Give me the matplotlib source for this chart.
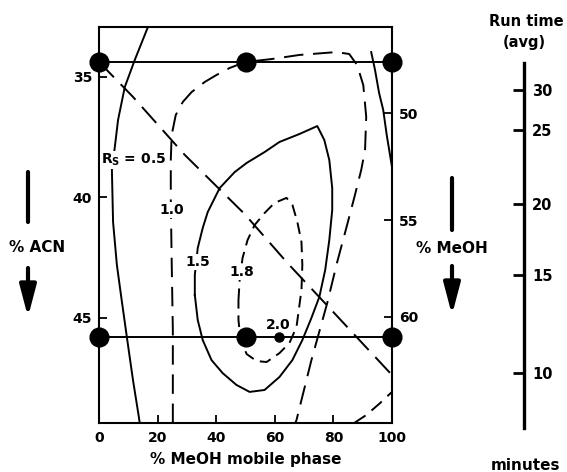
import matplotlib.pyplot as plt

plt.rcParams['font.family'] = ['DejaVu Sans']
plt.rcParams['font.weight'] = 'bold'
plt.rcParams['mathtext.fontset'] = 'custom'
plt.rcParams['mathtext.rm'] = 'DejaVu Sans:bold'
plt.rcParams['mathtext.it'] = 'DejaVu Sans:bold'
plt.rcParams['mathtext.bf'] = 'DejaVu Sans:bold'

W, H = 567, 472

# experiment points (% MeOH in mobile phase, % ACN)
grid_x = [0, 50, 100]
grid_acn = [34.38, 45.79]
opt_x = [61.6]
opt_y = [45.79]

# Rs contours (x = % MeOH, y = % ACN)
rs05_x = [16.7, 12.2, 8.8, 6.5, 5.4, 4.4, 4.8, 6.1, 7.5, 9.5, 11.6, 13.6, 13.9]
rs05_y = [32.93, 34.30, 35.42, 36.79, 37.91, 38.86, 41.02, 42.80, 44.05, 45.79, 47.58, 49.11, 49.36]
rs05r_x = [92.9, 94.2, 95.6, 97.0, 98.2, 100.0]
rs05r_y = [33.97, 34.71, 35.67, 36.37, 37.41, 38.74]

rs10_x = [25.2, 25.2, 24.8, 24.5, 24.5, 24.8, 26.2, 28.6, 31.6, 36.1, 40.1, 44.6, 50.0,
          58.9, 68.4, 81.0, 85.4, 88.1, 90.2, 91.2, 90.8, 89.5, 87.1, 84.4, 81.3, 77.9,
          72.5, 67.4, 67.0]
rs10_y = [49.36, 45.50, 42.60, 40.11, 38.45, 37.41, 36.58, 36.04, 35.63, 35.21, 34.92, 34.63, 34.38,
          34.26, 34.09, 33.97, 34.05, 34.51, 35.34, 36.66, 38.03, 38.86, 40.02, 41.27, 42.68, 44.38,
          46.75, 49.24, 49.36]

rs15_x = [32.7, 32.7, 33.7, 35.4, 37.1, 41.2, 46.3, 50.4, 56.5, 61.6, 68.4, 74.5, 76.9, 78.6,
          79.6, 79.6, 78.6, 77.2, 75.2, 72.5, 69.4, 66.0, 61.6, 56.5, 51.4, 46.9, 42.2, 38.4,
          35.4, 33.7, 32.7]
rs15_y = [44.05, 43.22, 42.10, 41.27, 40.61, 39.61, 38.95, 38.57, 38.12, 37.70, 37.37, 37.04, 37.62, 38.45,
          39.61, 40.52, 41.77, 43.01, 44.13, 45.00, 45.92, 46.75, 47.45, 47.99, 48.07, 47.78, 47.29, 46.75,
          45.92, 45.09, 44.05]

rs18_x = [47.6, 48.0, 49.0, 50.7, 53.1, 56.5, 59.9, 64.0, 66.0, 67.7, 69.1, 69.4, 69.1, 67.4,
          65.0, 61.6, 57.2, 53.8, 50.4, 48.3, 47.6, 47.6]
rs18_y = [44.26, 43.43, 42.51, 41.77, 41.15, 40.65, 40.23, 40.02, 40.31, 41.02, 41.85, 42.80, 43.84, 45.38,
          46.04, 46.46, 46.83, 46.79, 46.50, 45.92, 45.09, 44.26]

# run time contours (dashed)
diag_x = [0.0, 11.6, 29.3, 49.7, 64.3, 80.3, 100.0]
diag_y = [34.38, 35.83, 38.24, 40.69, 42.72, 44.80, 47.37]
corner_x = [87.1, 91.2, 95.6, 100.0]
corner_y = [49.36, 49.03, 48.57, 48.07]

# axis ticks
x_ticks = [0, 20, 40, 60, 80, 100]
acn_ticks = [35, 40, 45]
meoh_pos = [36.50, 40.94, 44.96]
meoh_labels = ['50', '55', '60']
runtime_labels = ['30', '25', '20', '15', '10']
runtime_pos = [90, 130, 204, 275, 373]

fig = plt.figure(figsize=(W / 100, H / 100), dpi=100)
ax = fig.add_axes([99 / W, 49 / H, 293 / W, 396 / H])
ax.set_xlim(0, 100)
ax.set_ylim(49.36, 32.93)

lw = 1.4
for acn in grid_acn:
    ax.plot(grid_x, [acn, acn, acn], color='k', lw=lw, zorder=3)
ax.plot(rs05_x, rs05_y, color='k', lw=lw)
ax.plot(rs05r_x, rs05r_y, color='k', lw=lw)
ax.plot(rs15_x, rs15_y, color='k', lw=lw)
ax.plot(rs10_x, rs10_y, color='k', lw=lw, ls=(0, (10, 5)))
ax.plot(rs18_x, rs18_y, color='k', lw=lw, ls=(0, (6, 3.5)))
ax.plot(diag_x, diag_y, color='k', lw=lw, ls=(0, (11, 5)))
ax.plot(corner_x, corner_y, color='k', lw=lw, ls=(0, (7, 4)))

for acn in grid_acn:
    ax.plot(grid_x, [acn, acn, acn], 'o', color='k', ms=13.5, clip_on=False, zorder=6)
ax.plot(opt_x, opt_y, 'o', color='k', ms=6.5, zorder=6)

lab = dict(ha='center', va='center', fontsize=10, fontweight='bold', zorder=4,
           bbox=dict(facecolor='white', edgecolor='none', pad=0.5))
ax.text(11.8, 38.45, r'$R_S$ = 0.5', **lab)
ax.text(24.8, 40.52, '1.0', **lab)
ax.text(33.7, 42.68, '1.5', **lab)
ax.text(48.6, 43.10, '1.8', **lab)
ax.text(61.2, 45.29, '2.0', **lab)

ax.set_xticks(x_ticks)
ax.set_yticks(acn_ticks)
ax.tick_params(direction='in', length=6, width=1.3, labelsize=10, pad=5,
               top=False, right=False)
ax.tick_params(axis='x', pad=6)
for s in ax.spines.values():
    s.set_linewidth(1.5)
ax.set_xlabel('% MeOH mobile phase', fontsize=11, fontweight='bold', labelpad=5)

ax2 = ax.twinx()
ax2.set_ylim(ax.get_ylim())
ax2.set_yticks(meoh_pos)
ax2.set_yticklabels(meoh_labels)
ax2.tick_params(direction='in', length=6, width=1.3, labelsize=10, pad=5)
for s in ax2.spines.values():
    s.set_visible(False)

# run time scale
rt = fig.add_axes([523 / W, (H - 428) / H, 1 / W, 365 / H])
rt.set_ylim(428, 63)
rt.set_xticks([])
rt.set_yticks(runtime_pos)
rt.set_yticklabels(runtime_labels)
for name, s in rt.spines.items():
    s.set_visible(name == 'right')
rt.spines['right'].set_linewidth(2.4)
rt.tick_params(axis='y', left=False, right=True, labelleft=False, labelright=True,
               direction='in', length=8, width=2, labelsize=10.5, pad=6)
rt.patch.set_visible(False)


def ftext(x, y, s, size=11):
    fig.text(x / W, 1 - y / H, s, ha='center', va='center', fontsize=size,
             fontweight='bold')


ftext(526, 22, 'Run time', 10.5)
ftext(524, 43, '(avg)', 10.5)
ftext(525, 465, 'minutes', 11)
ftext(37, 247, '% ACN')
ftext(452, 248, '% MeOH')

# direction arrows
for x, y0, y1, a0, a1 in [(28, 172, 222, 268, 317), (452, 178, 230, 266, 315)]:
    ax.annotate('', xy=(x, H - y1), xytext=(x, H - y0), xycoords='figure pixels',
                arrowprops=dict(arrowstyle='-', lw=3, color='k', shrinkA=0, shrinkB=0))
    ax.annotate('', xy=(x, H - a1), xytext=(x, H - a0), xycoords='figure pixels',
                arrowprops=dict(arrowstyle='-|>,head_length=0.95,head_width=0.25',
                                mutation_scale=20, lw=3, color='k', shrinkA=0, shrinkB=0))

fig.savefig('out.png', dpi=100)
